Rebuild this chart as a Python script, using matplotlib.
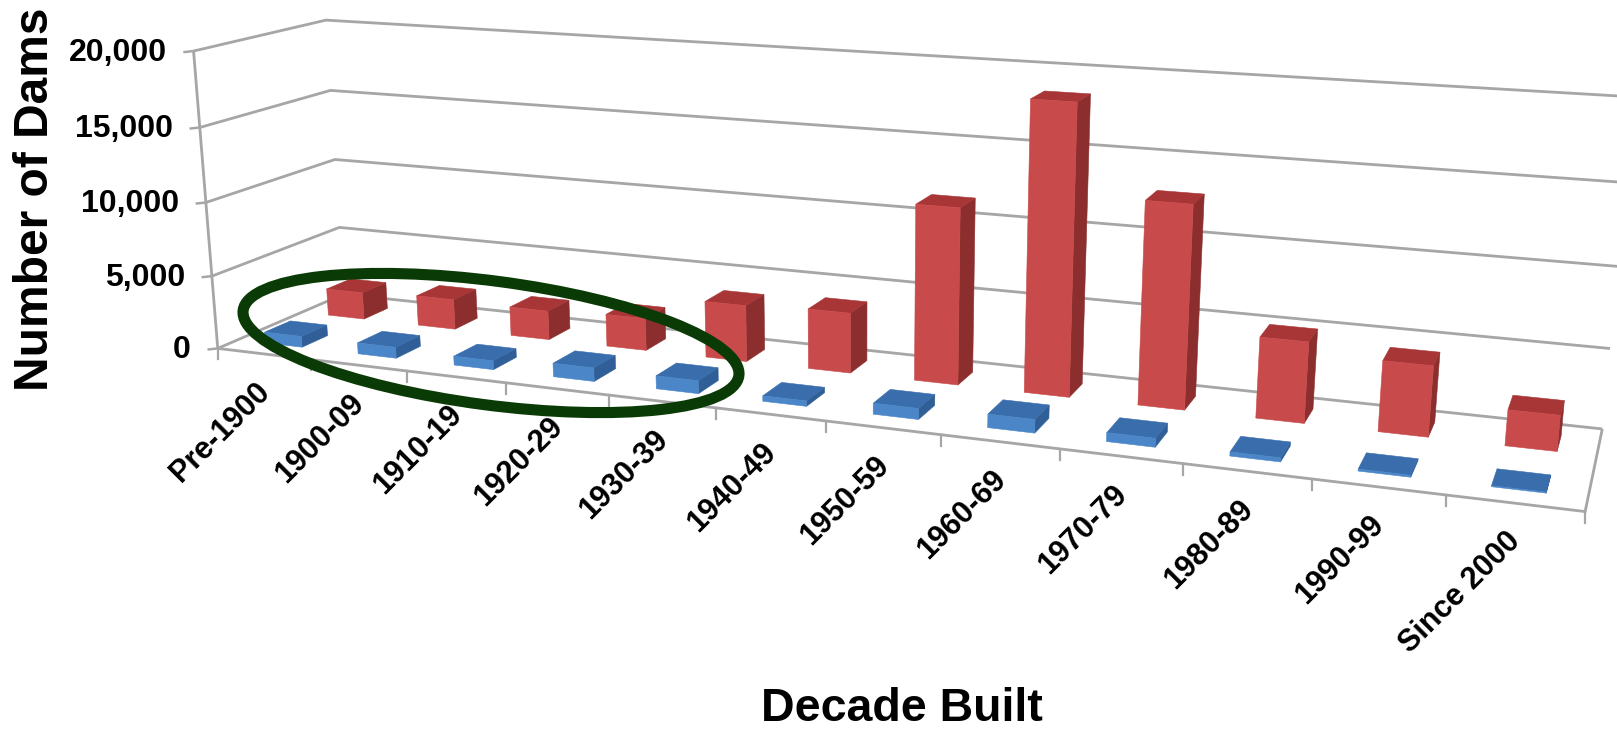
#!/usr/bin/env python

import numpy as np
import matplotlib
matplotlib.use('Agg')
import matplotlib.pyplot as plt
from matplotlib.patches import Ellipse, Polygon

# ----------------
# DATA
# ----------------

decades = ['Pre-1900', '1900-09', '1910-19', '1920-29', '1930-39', '1940-49',
           '1950-59', '1960-69', '1970-79', '1980-89', '1990-99', 'Since 2000']
red_values = [1900, 2100, 2000, 2200, 3800, 4000, 11500, 18600, 12900, 5100, 4400, 2200]
blue_values = [750, 750, 600, 900, 850, 350, 700, 850, 550, 250, 120, 60]
y_ticks = [0, 5000, 10000, 15000, 20000]

# ----------------
# PARAMETERS
# ----------------

W, H = 1617, 729
z_max = 20000
bar_width = 0.4
bar_depth = 0.2
series_center = {'blue': 0.25, 'red': 0.75}

grid_color = '#a6a6a6'
red_faces = ('#c94a4a', '#a83636', '#8c2e2e')   # front, top, side
blue_faces = ('#4a86c8', '#3a6dab', '#2f5f96')

# corners of the chart box: (category, depth, value fraction) -> picture pixels
box_world = np.array([(0, 0, 0), (12, 0, 0), (12, 1, 0), (0, 1, 0),
                      (0, 0, 1), (0, 1, 1), (12, 1, 0.25), (12, 1, 1)], float)
box_pixel = np.array([(218.4, 347.7), (1585, 512.5), (1602.5, 427.5), (343, 295),
                      (193, 51), (326.5, 20), (1610, 349), (1634, 97)], float)

# ----------------
# Helper Functions
# ----------------

def fit_camera(world, pixel):
    """Fit the 3x4 perspective matrix of the box by least squares"""
    rows = []
    for (x, y, z), (u, v) in zip(world, pixel):
        rows.append([x, y, z, 1, 0, 0, 0, 0, -u*x, -u*y, -u*z, -u])
        rows.append([0, 0, 0, 0, x, y, z, 1, -v*x, -v*y, -v*z, -v])
    return np.linalg.svd(np.array(rows))[2][-1].reshape(3, 4)


camera = fit_camera(box_world, box_pixel)


def project(x, y, value):
    p = camera @ np.array([x, y, value / z_max, 1.0])
    return p[0] / p[2], p[1] / p[2]


def grid_line(ax, points, lw=2.8):
    xy = np.array([project(*p) for p in points])
    ax.plot(xy[:, 0], xy[:, 1], color=grid_color, lw=lw / 1.39,
            solid_capstyle='butt', solid_joinstyle='miter', zorder=1)


def draw_bar(ax, i, center, value, faces):
    x0, x1 = i + 0.5 - bar_width / 2, i + 0.5 + bar_width / 2
    y0, y1 = center - bar_depth / 2, center + bar_depth / 2
    front = [(x0, y0, 0), (x1, y0, 0), (x1, y0, value), (x0, y0, value)]
    top = [(x0, y0, value), (x1, y0, value), (x1, y1, value), (x0, y1, value)]
    side = [(x1, y0, 0), (x1, y1, 0), (x1, y1, value), (x1, y0, value)]
    for corners, color in ((side, faces[2]), (top, faces[1]), (front, faces[0])):
        poly = [project(*c) for c in corners]
        ax.add_patch(Polygon(poly, closed=True, facecolor=color, edgecolor=color,
                             lw=0.4, zorder=2))

# ----------------
# Script
# ----------------

plt.rcParams['font.family'] = ['Liberation Sans', 'DejaVu Sans']

fig = plt.figure(figsize=(W / 100, H / 100), dpi=100)
ax = fig.add_axes([0, 0, 1, 1])
ax.set_xlim(0, W)
ax.set_ylim(H, 0)
ax.axis('off')

# walls and floor
for tick in y_ticks:
    grid_line(ax, [(0, 0, tick), (0, 1, tick), (12, 1, tick)])
grid_line(ax, [(0, 0, 0), (0, 0, z_max)])
grid_line(ax, [(0, 0, 0), (12, 0, 0), (12, 1, 0)])

# axis ticks and labels
for tick in y_ticks:
    u, v = project(0, 0, tick)
    ax.plot([u - 9, u], [v + 1, v], color=grid_color, lw=1.8, zorder=1)
    ax.text(u - 27, v + 2, f'{tick:,}', ha='right', va='center',
            fontsize=23, fontweight='bold')

for i, label in enumerate(decades):
    u, v = project(i, 0, 0)
    ax.plot([u, u], [v, v + 11], color=grid_color, lw=1.6, zorder=1)
    u, v = project(i + 0.5, 0, 0)
    ax.text(u - 9, v + 23, label, rotation=45, rotation_mode='anchor',
            ha='right', va='top', fontsize=22, fontweight='bold')
u, v = project(12, 0, 0)
ax.plot([u, u], [v, v + 11], color=grid_color, lw=1.6, zorder=1)

# bars, back row first
for i, value in enumerate(red_values):
    draw_bar(ax, i, series_center['red'], value, red_faces)
for i, value in enumerate(blue_values):
    draw_bar(ax, i, series_center['blue'], value, blue_faces)

ax.add_patch(Ellipse((491, 343), 500, 124, angle=7.5, facecolor='none',
                     edgecolor='#0a3a05', lw=8, zorder=5))

ax.text(36, 199, 'Number of Dams', rotation=90, ha='center', va='center',
        fontsize=34.5, fontweight='bold')
ax.text(902, 709, 'Decade Built', ha='center', va='center',
        fontsize=33.5, fontweight='bold')

fig.savefig('out.png', dpi=100)
plt.close(fig)
